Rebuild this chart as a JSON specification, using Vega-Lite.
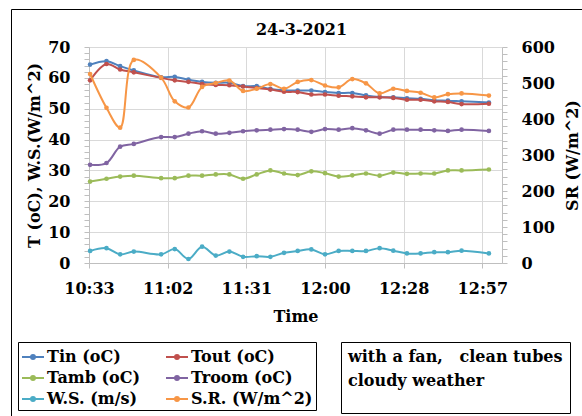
{
  "$schema": "https://vega.github.io/schema/vega-lite/v6.json",
  "width": 413,
  "height": 216,
  "autosize": {"type": "none"},
  "padding": {"left": 89, "top": 47, "right": 80, "bottom": 153},
  "background": "white",
  "config": {"view": {"stroke": null}, "axis": {"labelOverlap": false}, "axisX": {"labelOverlap": false}},
  "title": {"text": "24-3-2021", "font": "DejaVu Serif", "fontSize": 16, "fontWeight": "bold", "color": "black", "baseline": "alphabetic", "offset": -42, "dx": 6},
  "data": {
    "format": {"parse": {"time": "date:'%H:%M'"}},
    "values": [
      {"time": "10:34", "Tin": 64.3, "Tout": 59.2, "Tamb": 26.4, "Troom": 31.8, "WS": 3.9, "SR": 525},
      {"time": "10:40", "Tin": 65.4, "Tout": 64.5, "Tamb": 27.3, "Troom": 32.4, "WS": 4.8, "SR": 431},
      {"time": "10:45", "Tin": 63.8, "Tout": 62.7, "Tamb": 28.0, "Troom": 37.7, "WS": 2.8, "SR": 376},
      {"time": "10:50", "Tin": 62.4, "Tout": 61.8, "Tamb": 28.3, "Troom": 38.6, "WS": 3.7, "SR": 564},
      {"time": "11:00", "Tin": 60.2, "Tout": 60.0, "Tamb": 27.5, "Troom": 40.8, "WS": 2.8, "SR": 515},
      {"time": "11:05", "Tin": 60.3, "Tout": 59.2, "Tamb": 27.5, "Troom": 40.8, "WS": 4.5, "SR": 449},
      {"time": "11:10", "Tin": 59.4, "Tout": 58.7, "Tamb": 28.3, "Troom": 41.9, "WS": 1.3, "SR": 432},
      {"time": "11:15", "Tin": 58.7, "Tout": 58.0, "Tamb": 28.3, "Troom": 42.7, "WS": 5.3, "SR": 489},
      {"time": "11:20", "Tin": 58.4, "Tout": 57.7, "Tamb": 28.7, "Troom": 41.9, "WS": 2.4, "SR": 500},
      {"time": "11:25", "Tin": 58.4, "Tout": 57.6, "Tamb": 28.7, "Troom": 42.2, "WS": 3.7, "SR": 507},
      {"time": "11:30", "Tin": 57.3, "Tout": 57.2, "Tamb": 27.3, "Troom": 42.7, "WS": 2.0, "SR": 478},
      {"time": "11:35", "Tin": 57.3, "Tout": 56.7, "Tamb": 28.7, "Troom": 43.0, "WS": 2.2, "SR": 484},
      {"time": "11:40", "Tin": 56.4, "Tout": 56.2, "Tamb": 30.0, "Troom": 43.2, "WS": 2.0, "SR": 497},
      {"time": "11:45", "Tin": 56.0, "Tout": 55.5, "Tamb": 29.0, "Troom": 43.4, "WS": 3.3, "SR": 484},
      {"time": "11:50", "Tin": 55.9, "Tout": 55.4, "Tamb": 28.5, "Troom": 43.2, "WS": 3.9, "SR": 503},
      {"time": "11:55", "Tin": 55.9, "Tout": 54.6, "Tamb": 29.7, "Troom": 42.5, "WS": 4.4, "SR": 508},
      {"time": "12:00", "Tin": 55.4, "Tout": 54.6, "Tamb": 29.1, "Troom": 43.4, "WS": 2.8, "SR": 493},
      {"time": "12:05", "Tin": 55.1, "Tout": 54.2, "Tamb": 28.0, "Troom": 43.2, "WS": 3.9, "SR": 488},
      {"time": "12:10", "Tin": 55.1, "Tout": 54.0, "Tamb": 28.4, "Troom": 43.7, "WS": 3.9, "SR": 511},
      {"time": "12:15", "Tin": 54.3, "Tout": 53.7, "Tamb": 29.0, "Troom": 43.0, "WS": 3.9, "SR": 499},
      {"time": "12:20", "Tin": 53.8, "Tout": 53.7, "Tamb": 28.3, "Troom": 41.9, "WS": 4.8, "SR": 471},
      {"time": "12:25", "Tin": 53.7, "Tout": 53.5, "Tamb": 29.3, "Troom": 43.2, "WS": 4.0, "SR": 484},
      {"time": "12:30", "Tin": 53.4, "Tout": 52.9, "Tamb": 28.9, "Troom": 43.2, "WS": 3.1, "SR": 478},
      {"time": "12:35", "Tin": 53.2, "Tout": 52.9, "Tamb": 29.0, "Troom": 43.2, "WS": 3.1, "SR": 473},
      {"time": "12:40", "Tin": 52.7, "Tout": 52.4, "Tamb": 29.0, "Troom": 43.0, "WS": 3.5, "SR": 460},
      {"time": "12:45", "Tin": 52.6, "Tout": 52.2, "Tamb": 30.0, "Troom": 42.8, "WS": 3.5, "SR": 469},
      {"time": "12:50", "Tin": 52.4, "Tout": 51.5, "Tamb": 30.0, "Troom": 43.2, "WS": 4.0, "SR": 471},
      {"time": "13:00", "Tin": 52.0, "Tout": 51.6, "Tamb": 30.3, "Troom": 42.8, "WS": 3.1, "SR": 465}
    ]
  },
  "layer": [
    {
      "transform": [
        {"fold": ["Tin", "Tout", "Tamb", "Troom", "WS", "SR"], "as": ["series", "value"]},
        {"filter": "datum.series !== 'SR'"}
      ],
      "mark": {"type": "line", "interpolate": "catmull-rom", "strokeWidth": 2, "point": {"filled": true, "size": 22}},
      "encoding": {
        "x": {
          "field": "time", "type": "temporal", "title": "Time",
          "scale": {"domain": [
            {"year": 1900, "month": 1, "date": 1, "hours": 10, "minutes": 33, "seconds": 36},
            {"year": 1900, "month": 1, "date": 1, "hours": 13, "minutes": 4, "seconds": 48}
          ]},
          "axis": {
            "values": [
              {"year": 1900, "month": 1, "date": 1, "hours": 10, "minutes": 33, "seconds": 36},
              {"year": 1900, "month": 1, "date": 1, "hours": 11, "minutes": 2, "seconds": 24},
              {"year": 1900, "month": 1, "date": 1, "hours": 11, "minutes": 31, "seconds": 12},
              {"year": 1900, "month": 1, "date": 1, "hours": 12, "minutes": 0, "seconds": 0},
              {"year": 1900, "month": 1, "date": 1, "hours": 12, "minutes": 28, "seconds": 48},
              {"year": 1900, "month": 1, "date": 1, "hours": 12, "minutes": 57, "seconds": 36}
            ],
            "format": "%H:%M",
            "labelFlush": false, "labelOverlap": false, "labelBound": false,
            "grid": true, "gridColor": "#d9d9d9",
            "domainColor": "#bfbfbf", "tickColor": "#bfbfbf", "tickSize": 5,
            "labelFont": "DejaVu Serif", "labelFontSize": 16, "labelFontWeight": "bold", "labelColor": "black", "labelPadding": 12,
            "titleFont": "DejaVu Serif", "titleFontSize": 16, "titleFontWeight": "bold", "titleColor": "black", "titlePadding": 12
          }
        },
        "y": {
          "field": "value", "type": "quantitative", "title": "T (oC), W.S.(W/m^2)",
          "scale": {"domain": [0, 70], "nice": false},
          "axis": {
            "values": [0,2,4,6,8,10,12,14,16,18,20,22,24,26,28,30,32,34,36,38,40,42,44,46,48,50,52,54,56,58,60,62,64,66,68,70],
            "labelExpr": "datum.value % 10 === 0 ? datum.label : ''",
            "labelOverlap": false, "labelFlush": false,
            "grid": true, "gridColor": "#d9d9d9",
            "gridOpacity": {"condition": {"test": "datum.value % 10 === 0", "value": 1}, "value": 0},
            "domainColor": "#bfbfbf", "tickColor": "#bfbfbf", "tickSize": 5,
            "labelFont": "DejaVu Serif", "labelFontSize": 16, "labelFontWeight": "bold", "labelColor": "black", "labelPadding": 14,
            "titleFont": "DejaVu Serif", "titleFontSize": 16, "titleFontWeight": "bold", "titleColor": "black", "titlePadding": 5
          }
        },
        "color": {
          "field": "series", "type": "nominal",
          "scale": {"domain": ["Tin", "Tout", "Tamb", "Troom", "WS", "SR"], "range": ["#4f81bd", "#c0504d", "#9bbb59", "#8064a2", "#4bacc6", "#f79646"]},
          "legend": {
            "orient": "none", "legendX": -71, "legendY": 295, "columns": 2, "direction": "horizontal",
            "title": null, "strokeColor": "black", "padding": 3,
            "symbolType": "M-1,0H1M-0.18,0A0.18,0.18,0,1,1,0.18,0A0.18,0.18,0,1,1,-0.18,0",
            "symbolSize": 484, "symbolStrokeWidth": 2,
            "labelOffset": 2, "columnPadding": 22, "rowPadding": 1,
            "labelExpr": "datum.label === 'Tin' ? 'Tin (oC)' : datum.label === 'Tout' ? 'Tout (oC)' : datum.label === 'Tamb' ? 'Tamb (oC)' : datum.label === 'Troom' ? 'Troom (oC)' : datum.label === 'WS' ? 'W.S. (m/s)' : 'S.R. (W/m^2)'",
            "labelFont": "DejaVu Serif", "labelFontSize": 16, "labelFontWeight": "bold", "labelColor": "black", "labelLimit": 300
          }
        }
      }
    },
    {
      "transform": [
        {"fold": ["Tin", "Tout", "Tamb", "Troom", "WS", "SR"], "as": ["series", "value"]},
        {"filter": "datum.series === 'SR'"}
      ],
      "mark": {"type": "line", "interpolate": "catmull-rom", "strokeWidth": 2, "point": {"filled": true, "size": 22}},
      "encoding": {
        "x": {"field": "time", "type": "temporal"},
        "y": {
          "field": "value", "type": "quantitative", "title": "SR (W/m^2)",
          "scale": {"domain": [0, 600], "nice": false},
          "axis": {
            "orient": "right",
            "values": [0,20,40,60,80,100,120,140,160,180,200,220,240,260,280,300,320,340,360,380,400,420,440,460,480,500,520,540,560,580,600],
            "labelExpr": "datum.value % 100 === 0 ? datum.label : ''",
            "labelOverlap": false, "labelFlush": false, "grid": false,
            "domainColor": "#bfbfbf", "tickColor": "#bfbfbf", "tickSize": 5,
            "labelFont": "DejaVu Serif", "labelFontSize": 16, "labelFontWeight": "bold", "labelColor": "black", "labelPadding": 14,
            "titleFont": "DejaVu Serif", "titleFontSize": 16, "titleFontWeight": "bold", "titleColor": "black", "titlePadding": 10,
            "titleAngle": 270, "titleBaseline": "top"
          }
        },
        "color": {"field": "series", "type": "nominal"}
      }
    },
    {
      "data": {"values": [{"note": "with a fan, clean tubes, cloudy weather", "box": "frame"}]},
      "mark": {"type": "point", "opacity": 0},
      "encoding": {
        "shape": {
          "field": "note", "type": "nominal",
          "legend": {
            "orient": "none", "legendX": 252, "legendY": 295,
            "title": ["with a fan,\u00a0\u00a0 clean tubes", "cloudy weather"],
            "titleFont": "DejaVu Serif", "titleFontSize": 16, "titleFontWeight": "bold", "titleColor": "black", "titleLimit": 400, "titleLineHeight": 24,
            "strokeColor": "black", "padding": 7,
            "symbolOpacity": 0, "symbolSize": 120, "labelExpr": "''"
          }
        },
        "strokeDash": {
          "field": "box", "type": "nominal",
          "legend": {
            "orient": "none", "legendX": -78, "legendY": -38,
            "title": null, "strokeColor": "black", "padding": 300,
            "symbolOpacity": 0, "symbolSize": 1, "labelExpr": "''"
          }
        }
      }
    }
  ],
  "resolve": {"scale": {"y": "independent"}}
}
